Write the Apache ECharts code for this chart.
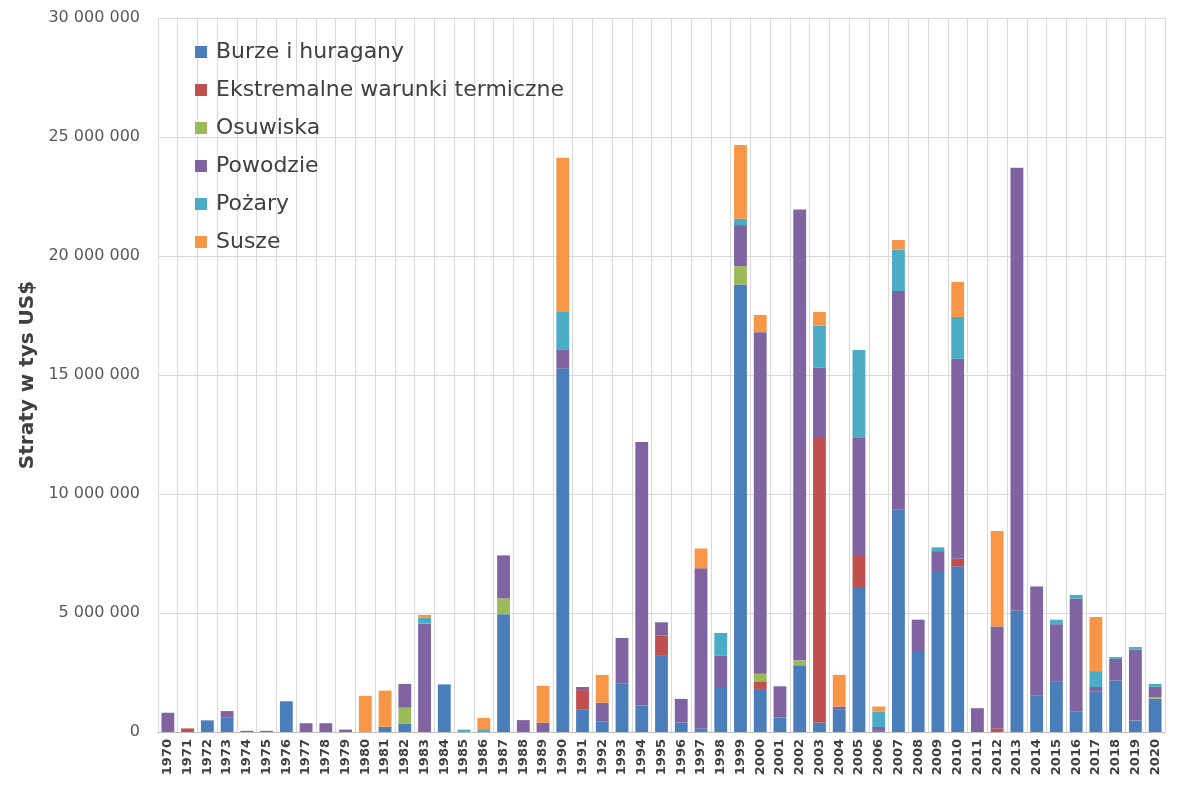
<!DOCTYPE html>
<html>
<head>
<meta charset="utf-8">
<title>Straty</title>
<script src="https://cdn.jsdelivr.net/npm/echarts@6/dist/echarts.min.js"></script>
<style>
  html, body { margin: 0; padding: 0; background: #fff; }
  #chart { width: 1180px; height: 788px; }
</style>
</head>
<body>
<div id="chart"></div>
<script>
// lata
const years = ['1970','1971','1972','1973','1974','1975','1976','1977','1978','1979',
  '1980','1981','1982','1983','1984','1985','1986','1987','1988','1989',
  '1990','1991','1992','1993','1994','1995','1996','1997','1998','1999',
  '2000','2001','2002','2003','2004','2005','2006','2007','2008','2009',
  '2010','2011','2012','2013','2014','2015','2016','2017','2018','2019',
  '2020'];

// straty w tys US$
const burze = [0, 0, 490000, 600000, 50000, 50000, 1290000, 0, 0, 0,
  0, 220000, 340000, 0, 2000000, 0, 0, 4950000, 0, 0,
  15280000, 960000, 450000, 2050000, 1120000, 3200000, 400000, 150000, 1890000, 18800000,
  1810000, 610000, 2800000, 400000, 960000, 6050000, 50000, 9340000, 3360000, 6720000,
  6960000, 0, 0, 5090000, 1520000, 2110000, 850000, 1710000, 2160000, 480000,
  1400000];
const ekstremalne = [0, 150000, 0, 0, 0, 0, 0, 0, 0, 0,
  0, 0, 0, 0, 0, 0, 0, 0, 0, 0,
  0, 800000, 0, 0, 0, 860000, 0, 0, 0, 0,
  320000, 0, 0, 12000000, 0, 1390000, 0, 0, 0, 0,
  320000, 0, 150000, 0, 0, 0, 0, 0, 0, 0,
  0];
const osuwiska = [0, 0, 0, 0, 0, 0, 0, 0, 0, 0,
  0, 0, 680000, 0, 0, 0, 0, 670000, 0, 0,
  0, 0, 0, 0, 0, 0, 0, 0, 0, 770000,
  320000, 0, 210000, 0, 0, 0, 0, 0, 0, 0,
  0, 0, 0, 0, 0, 0, 0, 0, 0, 0,
  70000];
const powodzie = [810000, 0, 0, 280000, 0, 0, 0, 370000, 370000, 100000,
  0, 0, 1000000, 4550000, 0, 0, 0, 1800000, 500000, 390000,
  800000, 130000, 780000, 1900000, 11070000, 550000, 990000, 6730000, 1310000, 1730000,
  14350000, 1310000, 18940000, 2910000, 110000, 4910000, 160000, 9190000, 1360000, 880000,
  8400000, 1000000, 4280000, 18620000, 4590000, 2420000, 4750000, 180000, 910000, 2990000,
  430000];
const pozary = [0, 0, 0, 0, 0, 0, 0, 0, 0, 0,
  0, 0, 0, 250000, 0, 100000, 120000, 0, 0, 0,
  1570000, 0, 0, 0, 0, 0, 0, 0, 960000, 260000,
  0, 0, 0, 1760000, 0, 3700000, 640000, 1740000, 0, 160000,
  1760000, 0, 0, 0, 0, 190000, 160000, 670000, 80000, 100000,
  120000];
const susze = [0, 0, 0, 0, 0, 0, 0, 0, 0, 0,
  1520000, 1520000, 0, 120000, 0, 0, 470000, 0, 0, 1550000,
  6480000, 0, 1170000, 0, 0, 0, 0, 830000, 0, 3100000,
  720000, 0, 0, 580000, 1330000, 0, 220000, 400000, 0, 0,
  1470000, 0, 4020000, 0, 0, 0, 0, 2270000, 0, 0,
  0];

const seriesDefs = [
  { name: 'Burze i huragany', data: burze, color: '#4a7ebb' },
  { name: 'Ekstremalne warunki termiczne', data: ekstremalne, color: '#c0504d' },
  { name: 'Osuwiska', data: osuwiska, color: '#9bbb59' },
  { name: 'Powodzie', data: powodzie, color: '#8064a2' },
  { name: 'Pożary', data: pozary, color: '#4bacc6' },
  { name: 'Susze', data: susze, color: '#f79646' }
];

const chart = echarts.init(document.getElementById('chart'));

const options = {
  animation: false,
  grid: {
    left: 158,
    right: 15,
    top: 18,
    bottom: 56
  },
  legend: {
    orient: 'vertical',
    left: 190,
    top: 36,
    itemWidth: 12,
    itemHeight: 12,
    itemGap: 16,
    icon: 'rect',
    data: seriesDefs.map(s => s.name),
    textStyle: {
      fontFamily: 'DejaVu Sans',
      fontSize: 22,
      color: '#404040',
      padding: [0, 0, 0, 4]
    }
  },
  xAxis: {
    type: 'category',
    data: years,
    axisLine: { lineStyle: { color: '#bfbfbf' } },
    axisTick: { show: false },
    splitLine: { show: true, lineStyle: { color: '#d9d9d9' } },
    axisLabel: {
      rotate: 90,
      interval: 0,
      margin: 7,
      fontFamily: 'DejaVu Sans',
      fontWeight: 'bold',
      fontSize: 13,
      color: '#404040'
    }
  },
  yAxis: {
    type: 'value',
    min: 0,
    max: 30000000,
    interval: 5000000,
    name: 'Straty w tys US$',
    nameLocation: 'middle',
    nameGap: 112,
    nameTextStyle: {
      fontFamily: 'DejaVu Sans',
      fontWeight: 'bold',
      fontSize: 20,
      color: '#404040'
    },
    axisLine: { show: false },
    axisTick: { show: false },
    splitLine: { lineStyle: { color: '#d9d9d9' } },
    axisLabel: {
      margin: 18,
      fontFamily: 'DejaVu Sans',
      fontSize: 16,
      color: '#595959',
      formatter: v => String(v).replace(/\B(?=(\d{3})+(?!\d))/g, ' ')
    }
  },
  series: seriesDefs.map(s => ({
    name: s.name,
    type: 'bar',
    stack: 'total',
    barCategoryGap: '35%',
    data: s.data,
    itemStyle: { color: s.color }
  }))
};

chart.setOption(options);
</script>
</body>
</html>
